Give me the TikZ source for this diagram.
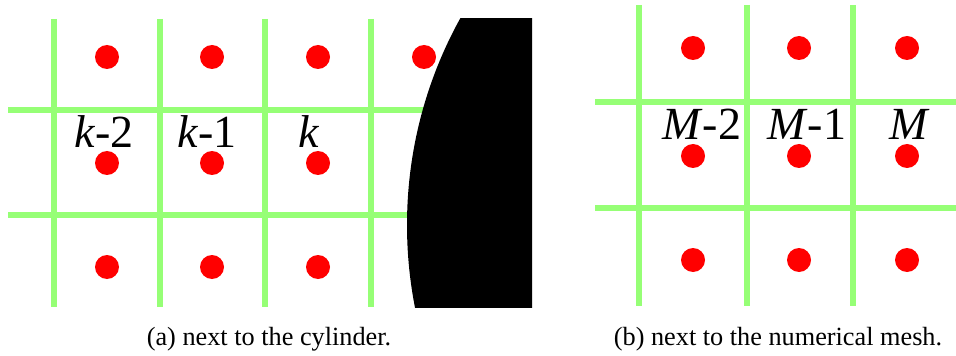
\documentclass[tikz,border=0pt]{standalone}
\usepackage{fontspec}
\setmainfont{Liberation Serif}
\newfontfamily\labelfont{Liberation Serif}
\usepackage{xcolor}
\definecolor{meshgreen}{RGB}{150,255,118}
\definecolor{nodered}{RGB}{255,0,0}

\begin{document}
\begin{tikzpicture}[
  x=0.75pt, y=-0.75pt,
  grid/.style={draw=meshgreen, line width=4.5pt},
  dotfill/.style={fill=nodered},
  lab/.style={anchor=base west, inner sep=0pt, font=\labelfont\fontsize{34.5}{40}\selectfont},
  captxt/.style={anchor=base, inner sep=0pt, font=\labelfont\fontsize{19.7}{24}\selectfont}]
\useasboundingbox (0,0) rectangle (956,356);
% (a) next to the cylinder
\foreach \x in {54,160,265,371} \draw[grid] (\x,19) -- (\x,307);
\foreach \y in {110,215} \draw[grid] (8,\y) -- (470,\y);
\foreach \x in {107,212,318} \foreach \y in {57,163,267} \fill[dotfill] (\x,\y) circle[radius=9pt];
\fill[dotfill] (424,57) circle[radius=9pt];
\begin{scope}
  \clip (380,19) rectangle (532,307);
  \fill[black] (834,225) circle[radius=427];
\end{scope}
\node[lab] (km2) at (74,147) {\textit{k}-2};
\node[lab] (km1) at (177,147) {\textit{k}-1};
\node[lab] (k) at (298,147) {\textit{k}};
\node[captxt] (capa) at (269,345) {(a) next to the cylinder.};
% (b) next to the numerical mesh
\foreach \x in {639,747,853} \draw[grid] (\x,5) -- (\x,306);
\foreach \y in {102,208} \draw[grid] (595,\y) -- (956,\y);
\foreach \x in {693,799,907} \foreach \y in {48,156,260} \fill[dotfill] (\x,\y) circle[radius=9pt];
\node[lab] (mm2) at (662,140) {\textit{M}-2};
\node[lab] (mm1) at (767,140) {\textit{M}-1};
\node[lab] (m) at (889,140) {\textit{M}};
\node[captxt] (capb) at (778,345) {(b) next to the numerical mesh.};
\end{tikzpicture}
\end{document}
